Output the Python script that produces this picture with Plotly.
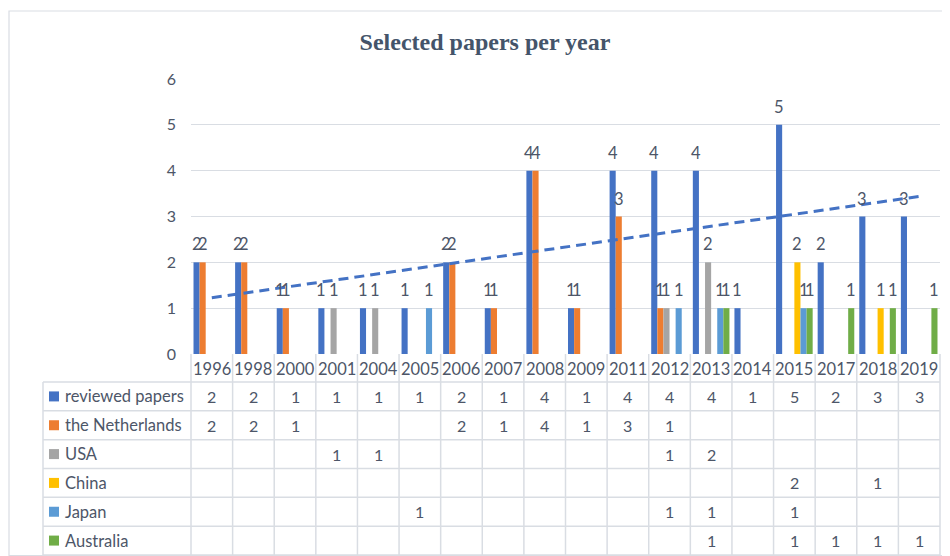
import plotly.graph_objects as go
import numpy as np

years = ["1996", "1998", "2000", "2001", "2004", "2005", "2006", "2007", "2008",
         "2009", "2011", "2012", "2013", "2014", "2015", "2017", "2018", "2019"]
reviewed_papers = [2, 2, 1, 1, 1, 1, 2, 1, 4, 1, 4, 4, 4, 1, 5, 2, 3, 3]
netherlands = [2, 2, 1, None, None, None, 2, 1, 4, 1, 3, 1, None, None, None, None, None, None]
usa = [None, None, None, 1, 1, None, None, None, None, None, None, 1, 2, None, None, None, None, None]
china = [None, None, None, None, None, None, None, None, None, None, None, None, None, None, 2, None, 1, None]
japan = [None, None, None, None, None, 1, None, None, None, None, None, 1, 1, None, 1, None, None, None]
australia = [None, None, None, None, None, None, None, None, None, None, None, None, 1, None, 1, 1, 1, 1]

series_names = ["reviewed papers", "the Netherlands", "USA", "China", "Japan", "Australia"]
series_values = [reviewed_papers, netherlands, usa, china, japan, australia]
colors = ["#4472C4", "#ED7D31", "#A5A5A5", "#FFC000", "#5B9BD5", "#70AD47"]

# page body has an 8px margin: lay out in reference pixels, shifted by OFF
OFF = 8
W, H = 950 - OFF, 556 - OFF
PLOT_L, PLOT_R, PLOT_T, PLOT_B = 191, 940, 79, 354  # reference pixel coords
L = PLOT_L - OFF
T = PLOT_T - OFF
R = W - (PLOT_R - OFF)
B = H - (PLOT_B - OFF)
PW = PLOT_R - PLOT_L
PH = PLOT_B - PLOT_T
TXT = "#4d5668"
FONT = "Lato, 'Noto Sans', sans-serif"
LINE = "#D9DDE3"
BARGAP = 0.12
n = len(years)
ns = len(series_names)


def px2x(px):
    return (px - PLOT_L) / PW


def py2y(py):
    return (PLOT_B - py) / PH


fig = go.Figure()
for name, vals, col in zip(series_names, series_values, colors):
    fig.add_trace(go.Bar(
        x=years, y=vals, name=name, marker=dict(color=col, line=dict(width=0)),
    ))

# linear trendline of reviewed papers (Excel-style)
idx = np.arange(1, n + 1)
slope, intercept = np.polyfit(idx, np.array(reviewed_papers, dtype=float), 1)
trend = slope * idx + intercept
fig.add_trace(go.Scatter(
    x=years, y=trend, mode="lines", showlegend=False, hoverinfo="skip",
    line=dict(color="#4472C4", width=3, dash="10px,6px"),
))

shapes = []
annotations = []

# data labels above each bar
cat_px = PW / n
bar_px = cat_px * (1 - BARGAP) / ns
for k, vals in enumerate(series_values):
    for i, v in enumerate(vals):
        if v is not None:
            annotations.append(dict(x=i, xref="x", y=v, yref="y", xshift=(k - (ns - 1) / 2) * bar_px,
                                    yshift=18, xanchor="center", yanchor="middle", text=str(v),
                                    showarrow=False, font=dict(size=16.5, color=TXT, family=FONT)))

# outer chart border
shapes.append(dict(type="rect", xref="paper", yref="paper",
                   x0=px2x(9), x1=px2x(949.5), y0=py2y(555.5), y1=py2y(11),
                   line=dict(color=LINE, width=1.2)))

top_hdr, hdr_bot, tbl_bot = 354, 382, 555
row_h = (tbl_bot - hdr_bot) / ns
left_tbl = 43
for i in range(n + 1):
    x = i / n
    shapes.append(dict(type="line", xref="paper", yref="paper", x0=x, x1=x,
                       y0=py2y(top_hdr), y1=py2y(tbl_bot), line=dict(color=LINE, width=1.5)))
shapes.append(dict(type="line", xref="paper", yref="paper", x0=px2x(left_tbl), x1=px2x(left_tbl),
                   y0=py2y(hdr_bot), y1=py2y(tbl_bot), line=dict(color=LINE, width=1.5)))
for r in range(ns + 1):
    yy = hdr_bot + r * row_h
    shapes.append(dict(type="line", xref="paper", yref="paper", x0=px2x(left_tbl), x1=1,
                       y0=py2y(yy), y1=py2y(yy), line=dict(color=LINE, width=1.5)))

# header years
for i, yr in enumerate(years):
    annotations.append(dict(x=i, xref="x", y=py2y((top_hdr + hdr_bot) / 2 + 1), yref="paper",
                            xanchor="center", yanchor="middle",
                            text=yr, showarrow=False, font=dict(size=16.5, color=TXT, family=FONT)))

# rows
for r, (name, vals, col) in enumerate(zip(series_names, series_values, colors)):
    cy = hdr_bot + (r + 0.5) * row_h
    shapes.append(dict(type="rect", xref="paper", yref="paper",
                       x0=px2x(49), x1=px2x(59), y0=py2y(cy + 5), y1=py2y(cy - 5),
                       fillcolor=col, line=dict(width=0)))
    annotations.append(dict(x=px2x(63), xref="paper", y=py2y(cy), yref="paper",
                            xanchor="left", yanchor="middle",
                            text=name, showarrow=False, font=dict(size=16.5, color=TXT, family=FONT)))
    for i, v in enumerate(vals):
        if v is not None:
            annotations.append(dict(x=i, xref="x", y=py2y(cy), yref="paper",
                                    xanchor="center", yanchor="middle",
                                    text=str(v), showarrow=False,
                                    font=dict(size=16, color=TXT, family=FONT)))

fig.update_layout(
    width=W, height=H,
    margin=dict(l=L, r=R, t=T, b=B, autoexpand=False),
    paper_bgcolor="white", plot_bgcolor="white",
    barmode="group", bargap=BARGAP, bargroupgap=0,
    showlegend=False,
    title=dict(text="<b>Selected papers per year</b>", x=(485 - OFF) / W, xref="container",
               xanchor="center", y=1 - (42 - OFF) / H, yref="container", yanchor="middle",
               font=dict(family="'Liberation Serif', 'Times New Roman', serif", size=24, color="#44546A")),
    xaxis=dict(type="category", range=[-0.5, n - 0.5], autorange=False, showticklabels=False,
               showgrid=False, zeroline=False, showline=False, ticks=""),
    yaxis=dict(range=[0, 6], autorange=False, dtick=1, showgrid=True, gridcolor="#D9DDE3",
               gridwidth=1.2, zeroline=False, showline=False, ticks="", ticklabelstandoff=14,
               tickfont=dict(size=16, color=TXT, family=FONT)),
    shapes=shapes, annotations=annotations,
)

fig.write_html("out.html")
